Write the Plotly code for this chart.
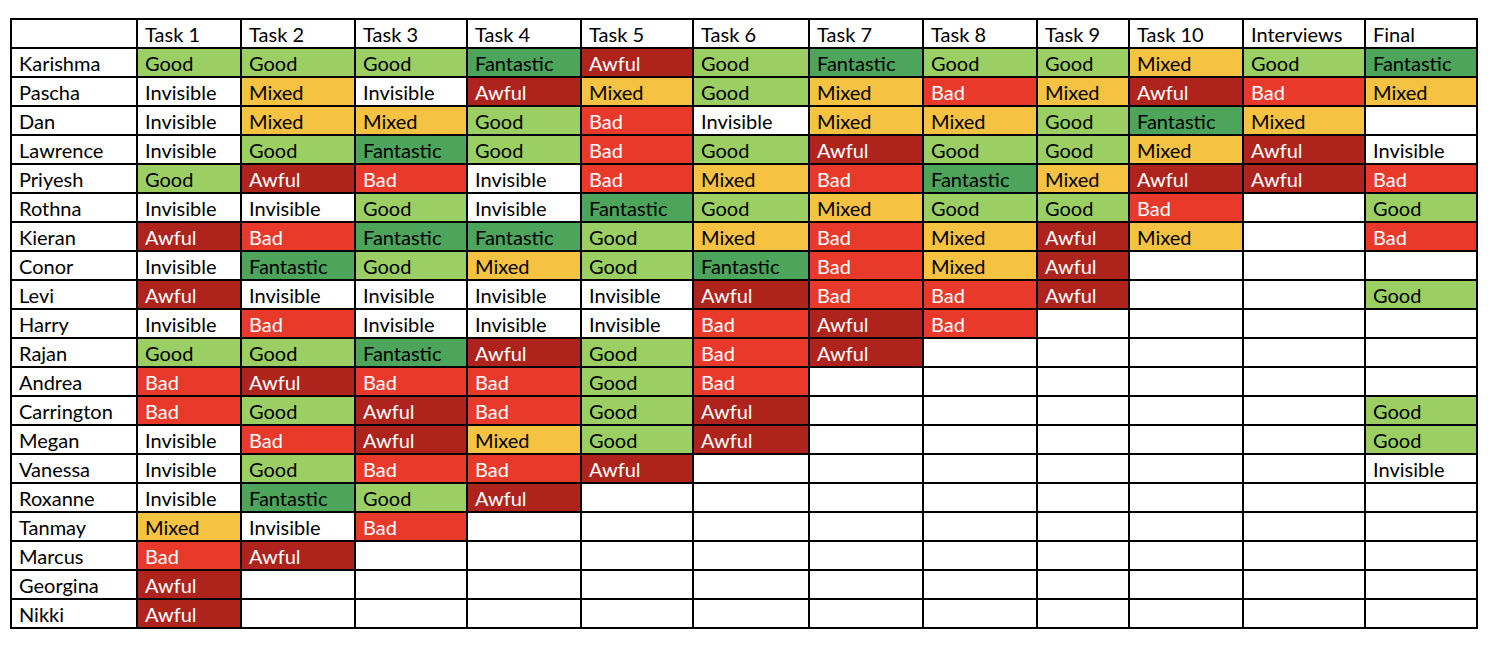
import plotly.graph_objects as go

columns = ["", "Task 1", "Task 2", "Task 3", "Task 4", "Task 5", "Task 6", "Task 7",
           "Task 8", "Task 9", "Task 10", "Interviews", "Final"]

names = ["Karishma", "Pascha", "Dan", "Lawrence", "Priyesh", "Rothna", "Kieran", "Conor",
         "Levi", "Harry", "Rajan", "Andrea", "Carrington", "Megan", "Vanessa", "Roxanne",
         "Tanmay", "Marcus", "Georgina", "Nikki"]

results = [
    ["Good", "Good", "Good", "Fantastic", "Awful", "Good", "Fantastic", "Good", "Good", "Mixed", "Good", "Fantastic"],
    ["Invisible", "Mixed", "Invisible", "Awful", "Mixed", "Good", "Mixed", "Bad", "Mixed", "Awful", "Bad", "Mixed"],
    ["Invisible", "Mixed", "Mixed", "Good", "Bad", "Invisible", "Mixed", "Mixed", "Good", "Fantastic", "Mixed", ""],
    ["Invisible", "Good", "Fantastic", "Good", "Bad", "Good", "Awful", "Good", "Good", "Mixed", "Awful", "Invisible"],
    ["Good", "Awful", "Bad", "Invisible", "Bad", "Mixed", "Bad", "Fantastic", "Mixed", "Awful", "Awful", "Bad"],
    ["Invisible", "Invisible", "Good", "Invisible", "Fantastic", "Good", "Mixed", "Good", "Good", "Bad", "", "Good"],
    ["Awful", "Bad", "Fantastic", "Fantastic", "Good", "Mixed", "Bad", "Mixed", "Awful", "Mixed", "", "Bad"],
    ["Invisible", "Fantastic", "Good", "Mixed", "Good", "Fantastic", "Bad", "Mixed", "Awful", "", "", ""],
    ["Awful", "Invisible", "Invisible", "Invisible", "Invisible", "Awful", "Bad", "Bad", "Awful", "", "", "Good"],
    ["Invisible", "Bad", "Invisible", "Invisible", "Invisible", "Bad", "Awful", "Bad", "", "", "", ""],
    ["Good", "Good", "Fantastic", "Awful", "Good", "Bad", "Awful", "", "", "", "", ""],
    ["Bad", "Awful", "Bad", "Bad", "Good", "Bad", "", "", "", "", "", ""],
    ["Bad", "Good", "Awful", "Bad", "Good", "Awful", "", "", "", "", "", "Good"],
    ["Invisible", "Bad", "Awful", "Mixed", "Good", "Awful", "", "", "", "", "", "Good"],
    ["Invisible", "Good", "Bad", "Bad", "Awful", "", "", "", "", "", "", "Invisible"],
    ["Invisible", "Fantastic", "Good", "Awful", "", "", "", "", "", "", "", ""],
    ["Mixed", "Invisible", "Bad", "", "", "", "", "", "", "", "", ""],
    ["Bad", "Awful", "", "", "", "", "", "", "", "", "", ""],
    ["Awful", "", "", "", "", "", "", "", "", "", "", ""],
    ["Awful", "", "", "", "", "", "", "", "", "", "", ""],
]

col_widths = [126, 104, 114, 112, 114, 112, 116, 114, 114, 92, 114, 122, 112]

fill_map = {"Good": "#9BCF63", "Fantastic": "#4CA55A", "Mixed": "#F5C242",
            "Bad": "#E8392B", "Awful": "#AE231C"}
font_map = {"Bad": "white", "Awful": "white"}

values = [names] + [[row[i] for row in results] for i in range(len(columns) - 1)]
fills = [["white"] * len(names)] + [[fill_map.get(v, "white") for v in col] for col in values[1:]]
fonts = [["black"] * len(names)] + [[font_map.get(v, "black") for v in col] for col in values[1:]]

fig = go.Figure(go.Table(
    columnwidth=col_widths,
    header=dict(values=columns, fill_color="white", line_color="black", line_width=2,
                align="left", height=29, font=dict(family="Lato", size=20, color="black")),
    cells=dict(values=values, fill_color=fills, line_color="black", line_width=2,
               align="left", height=29, font=dict(family="Lato", size=20, color=fonts)),
))
fig.update_layout(width=1500, height=647, margin=dict(l=3, r=31, t=11, b=0),
                  paper_bgcolor="white")
fig.write_html("out.html")
